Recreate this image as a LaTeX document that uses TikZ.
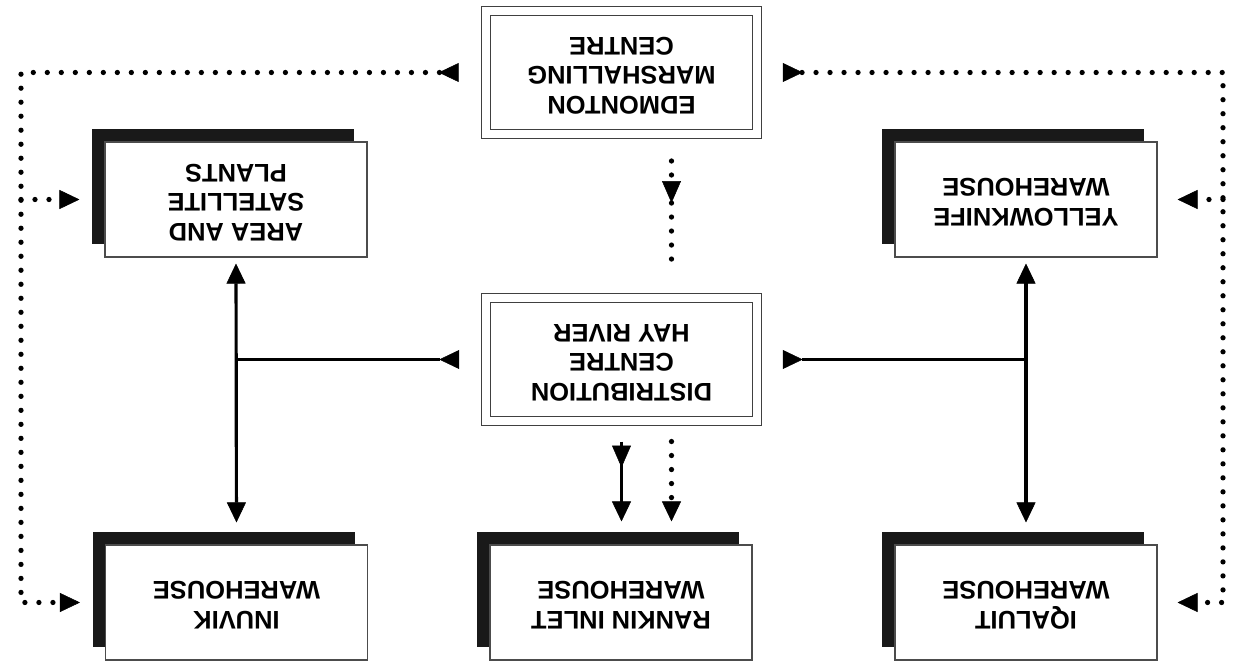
\documentclass[tikz,border=0pt]{standalone}
\usepackage{fontspec}
\setmainfont{Liberation Sans}
\usetikzlibrary{arrows.meta,positioning,calc,shadows,decorations.markings}

\newcommand{\flip}[1]{\rotatebox{180}{\begin{tabular}{@{}c@{}}#1\end{tabular}}}

\begin{document}
\begin{tikzpicture}[
  font=\bfseries\fontsize{14.5}{16.8}\selectfont,
  bx/.style={rectangle, align=center, inner sep=0pt,
             minimum width=5.24cm, minimum height=2.3cm},
  wh/.style={bx, draw=black!70, line width=0.6pt, fill=white,
             general shadow={fill=black!90, shadow xshift=-2.6mm, shadow yshift=2.6mm}},
  dbl/.style={bx, draw=black!75, line width=0.6pt, double, double distance=1.6mm,
              minimum width=5.43cm, minimum height=2.46cm},
  a/.style={line width=1.8pt, -{Triangle[length=4mm, width=3.8mm, line width=0.3pt]}},
  ab/.style={line width=1.8pt, {Triangle[length=4mm, width=3.8mm, line width=0.3pt]}-{Triangle[length=4mm, width=3.8mm, line width=0.3pt]}},
  ar/.style={line width=1.8pt, {Triangle[reversed, length=4mm, width=3.8mm, line width=0.3pt]}-},
  fb/.style={line width=3pt, line cap=round, dash pattern=on 0pt off 7.97pt},
  fbs/.style={fb, {Triangle[reversed, length=4mm, width=3.8mm, line width=0.3pt]}-{Triangle[length=4mm, width=3.8mm, line width=0.3pt]}},
  fba/.style={fb, -{Triangle[length=4mm, width=3.8mm, line width=0.3pt]}},
  midtip/.style={postaction={decorate, decoration={markings,
      mark=at position #1 with {\arrow{Triangle[length=4.4mm, width=3.8mm, line width=0.3pt]}}}}}
]
\useasboundingbox (0,0) rectangle (24.84,-13.32);

% ================= centres =================
\node[dbl] (edm)  at (12.43,-1.45) {\flip{EDMONTON\\MARSHALLING\\CENTRE}};
\node[dbl] (dist) at (12.43,-7.19) {\flip{DISTRIBUTION\\CENTRE\\HAY RIVER}};

% ================= warehouses and plants =================
\node[wh] (area) at ( 4.72,-3.99) {\raisebox{1.2mm}{\flip{AREA AND\\SATELLITE\\PLANTS}}};
\node[wh] (ykn)  at (20.52,-3.99) {\flip{YELLOWKNIFE\\WAREHOUSE}};
\node[wh] (inv)  at ( 4.73,-12.05) {\flip{INUVIK\\WAREHOUSE}};
\node[wh] (rnk)  at (12.42,-12.05) {\flip{RANKIN INLET\\WAREHOUSE}};
\node[wh] (iql)  at (20.52,-12.05) {\flip{IQALUIT\\WAREHOUSE}};

% ================= solid distribution flow =================
\coordinate (jl) at (area.south |- dist.west);
\coordinate (jr) at (ykn.south |- dist.east);
\draw[ar, shorten <=5.2mm] (dist.west) -- (jl);
\draw[ar, shorten <=5mm] (dist.east) -- (jr);
\draw[ab, shorten <=1.2mm, shorten >=4.4mm] (area.south) -- (inv.north);
\draw[ab, shorten <=1.2mm, shorten >=4.4mm] (ykn.south) -- (iql.north);
\coordinate (d1) at ($(dist.south)+(0,-0.4)$);
\coordinate (r1) at ($(dist.south |- rnk.north)+(0,0.46)$);
\draw[a, midtip=0.52cm] (d1) -- (r1);

% ================= dotted supply lines =================
\coordinate (d2) at ($(dist.south)+(1.0,-0.4)$);
\coordinate (r2) at ($(dist.south |- rnk.north)+(1.0,0.46)$);
\draw[fba] (d2) -- (r2);
\coordinate (e1) at ($(edm.south)+(1.0,-0.53)$);
\coordinate (d3) at ($(dist.north)+(1.0,0.5)$);
\draw[fb, midtip=0.84cm] (e1) -- (d3);

\coordinate (lt) at (0.42,-1.45);
\coordinate (rt) at (24.46,-1.45);
\draw[fbs, shorten <=5.3mm, shorten >=5mm] (edm.west) -- (lt) |- (inv.west);
\draw[fba, shorten >=5mm] (lt |- area.west) -- (area.west);
\draw[fbs, shorten <=5mm, shorten >=4mm] (edm.east) -- (rt) |- (iql.east);
\draw[fba, shorten >=4mm] (rt |- ykn.east) -- (ykn.east);
\end{tikzpicture}
\end{document}
